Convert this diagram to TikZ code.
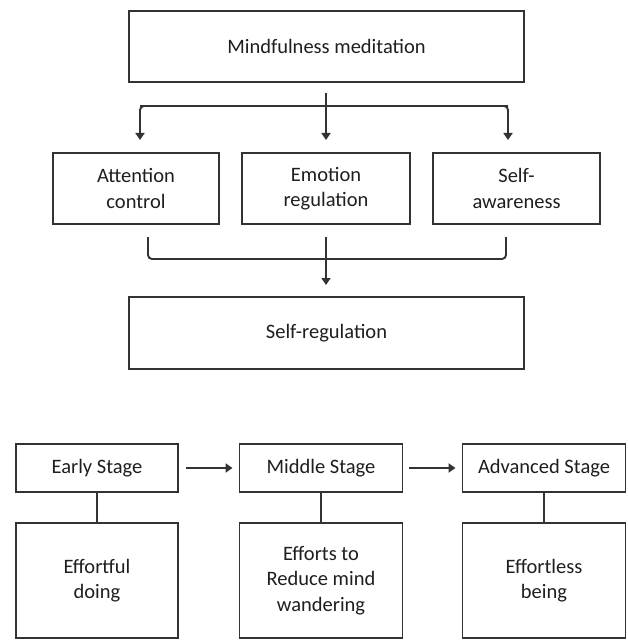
\documentclass[tikz,border=0pt]{standalone}
\usepackage{fontspec}
\setmainfont{Carlito}
\usetikzlibrary{arrows.meta}
\definecolor{ln}{HTML}{333333}
\definecolor{tx}{HTML}{1E1E1E}
\begin{document}
\begin{tikzpicture}[x=1bp,y=-1bp,
  box/.style={draw=ln,line width=1.9bp,rectangle,inner sep=0pt,align=center,text=tx,
    font=\fontsize{20.5bp}{25.5bp}\selectfont},
  conn/.style={draw=ln,line width=1.9bp},
  arr/.style={conn,-{Triangle[width=9bp,length=7bp]}}]
\useasboundingbox (0,0) rectangle (628,640);
% top part
\node[box,minimum width=395bp,minimum height=71bp] (top) at (326.5,46.5) {Mindfulness meditation};
\node[box,minimum width=166bp,minimum height=71bp] (att) at (136,188.5) {Attention\\control};
\node[box,minimum width=168bp,minimum height=71bp] (emo) at (326,188.5) {Emotion\\regulation};
\node[box,minimum width=167bp,minimum height=71bp] (saw) at (516.5,188.5) {Self-\\awareness};
\node[box,minimum width=395bp,minimum height=72bp] (sreg) at (326.5,333) {Self-regulation};
% branch arrows
\coordinate (ts) at (326,93);
\coordinate (tl) at (140,106);
\coordinate (tr) at (508,106);
\coordinate (al) at (140,140);
\coordinate (ac) at (326,140);
\coordinate (ar) at (508,140);
\draw[arr] (ts) -- (ac);
\draw[arr,rounded corners=4bp] (tl) -- (tr) -- (ar);
\draw[arr,rounded corners=4bp] (tr) -- (tl) -- (al);
% bracket
\coordinate (bl) at (148,237);
\coordinate (br) at (506,237);
\coordinate (bc) at (326,237);
\coordinate (be) at (326,285);
\draw[conn,rounded corners=4bp] (bl) -- (148,259) -- (506,259) -- (br);
\draw[arr] (bc) -- (be);
% stages
\node[box,minimum width=162bp,minimum height=48bp] (early) at (97,468) {Early Stage};
\node[box,minimum width=163bp,minimum height=48bp] (mid) at (321,468) {Middle Stage};
\node[box,minimum width=163bp,minimum height=48bp] (adv) at (544,468) {Advanced Stage};
\node[box,minimum width=162bp,minimum height=115bp] (le) at (97,580.5) {Effortful\\doing};
\node[box,minimum width=163bp,minimum height=115bp] (lm) at (321,580.5) {Efforts to\\Reduce mind\\wandering};
\node[box,minimum width=163bp,minimum height=115bp] (la) at (544,580.5) {Effortless\\being};
\draw[arr] ([xshift=7bp]early.east) -- ([xshift=-6bp]mid.west);
\draw[arr] ([xshift=6bp]mid.east) -- ([xshift=-6bp]adv.west);
\draw[conn] (early.south) -- (le.north);
\draw[conn] (mid.south) -- (lm.north);
\draw[conn] (adv.south) -- (la.north);
\end{tikzpicture}
\end{document}
